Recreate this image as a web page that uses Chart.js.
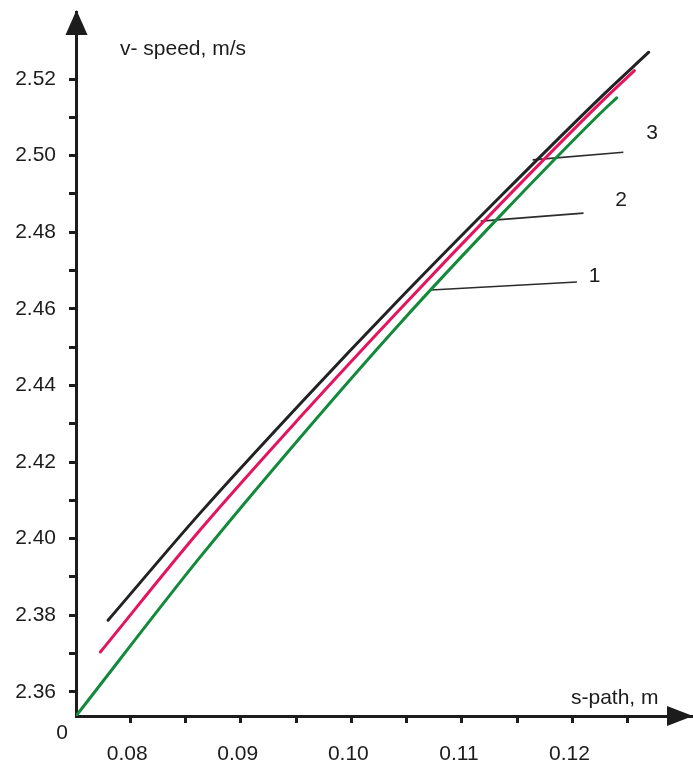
<!DOCTYPE html>
<html>
<head>
<meta charset="utf-8">
<script src="https://cdn.jsdelivr.net/npm/chart.js@4"></script>
<style>
  html, body { margin: 0; padding: 0; background: #fff; }
  #wrap { width: 693px; height: 766px; }
</style>
</head>
<body>
<div id="wrap"><canvas id="chart-speed"></canvas></div>
<script>
// s - path (m), v - speed (m/s), three curves
const curve1S = [0.0751, 0.0863, 0.0954, 0.1044, 0.1135, 0.1225, 0.1240];
const curve1V = [2.3537, 2.3951, 2.4265, 2.4562, 2.4844, 2.5110, 2.5151];
const curve2S = [0.0773, 0.0863, 0.0954, 0.1044, 0.1135, 0.1225, 0.1256];
const curve2V = [2.3704, 2.4022, 2.4318, 2.4599, 2.4874, 2.5137, 2.5222];
const curve3S = [0.0780, 0.0863, 0.0954, 0.1044, 0.1135, 0.1225, 0.1269];
const curve3V = [2.3787, 2.4066, 2.4353, 2.4627, 2.4894, 2.5151, 2.5270];

// leader lines to the curve numbers
const curveNames = ['1', '2', '3'];
const leaderS = [[0.1072, 0.1204], [0.1117, 0.1210], [0.1164, 0.1246]];
const leaderV = [[2.4649, 2.4670], [2.4829, 2.4850], [2.4989, 2.5009]];
const nameS = [0.1220, 0.1244, 0.1272];
const nameV = [2.4686, 2.4884, 2.5059];

// axes
const sMin = 0.0751, sMax = 0.1309;
const vMin = 2.3537, vMax = 2.5375;
const sTicks = [0.08, 0.085, 0.09, 0.095, 0.10, 0.105, 0.11, 0.115, 0.12, 0.125];
const sLabels = [0.08, 0.09, 0.10, 0.11, 0.12];
const vTicks = [2.36, 2.37, 2.38, 2.39, 2.40, 2.41, 2.42, 2.43, 2.44, 2.45, 2.46, 2.47, 2.48, 2.49, 2.50, 2.51, 2.52];
const vLabels = [2.36, 2.38, 2.40, 2.42, 2.44, 2.46, 2.48, 2.50, 2.52];

const FONT = '"Liberation Sans", Arial, sans-serif';
const INK = '#1c1c1c';

function pts(xs, ys) {
  return xs.map((x, i) => ({ x: x, y: ys[i] }));
}
function isLabel(list, v) {
  return list.some(l => Math.abs(l - v) < 1e-6);
}

const curveStyle = (data, color) => ({
  data: data, borderColor: color, borderWidth: 3, pointRadius: 0,
  showLine: true, fill: false, cubicInterpolationMode: 'monotone', borderCapStyle: 'round'
});

const datasets = [
  curveStyle(pts(curve1S, curve1V), '#13893b'),
  curveStyle(pts(curve2S, curve2V), '#e4145e'),
  curveStyle(pts(curve3S, curve3V), '#222222')
];
leaderS.forEach((s, i) => {
  datasets.push({
    data: pts(s, leaderV[i]), borderColor: '#2c2c2c', borderWidth: 1.6,
    pointRadius: 0, showLine: true, fill: false
  });
});

// axis arrows, axis names, origin mark and curve numbers
const decorPlugin = {
  id: 'decor',
  afterDraw(chart) {
    const ctx = chart.ctx;
    const a = chart.chartArea;
    const xs = chart.scales.x, ys = chart.scales.y;
    const ax = a.left + 0.5;
    ctx.save();
    ctx.fillStyle = INK;
    // y arrow
    ctx.beginPath();
    ctx.moveTo(ax, a.top - 2);
    ctx.lineTo(ax - 11, a.top + 23);
    ctx.lineTo(ax + 11, a.top + 23);
    ctx.closePath();
    ctx.fill();
    // x arrow
    ctx.beginPath();
    ctx.moveTo(a.right, a.bottom);
    ctx.lineTo(a.right - 26, a.bottom - 10);
    ctx.lineTo(a.right - 26, a.bottom + 10);
    ctx.closePath();
    ctx.fill();

    ctx.font = '21px ' + FONT;
    ctx.textBaseline = 'alphabetic';
    ctx.textAlign = 'left';
    ctx.fillText('v- speed, m/s', 120, 55);
    ctx.fillText('s-path, m', 571, 704);
    ctx.textAlign = 'center';
    ctx.textBaseline = 'middle';
    ctx.fillText('0', 62, 733);

    curveNames.forEach((n, i) => {
      ctx.fillText(n, xs.getPixelForValue(nameS[i]), ys.getPixelForValue(nameV[i]));
    });
    ctx.restore();
  }
};

const axisGrid = {
  display: true, drawOnChartArea: false, drawTicks: true,
  tickLength: 7, tickWidth: 3, tickColor: INK
};

new Chart(document.getElementById('chart-speed'), {
  type: 'scatter',
  data: { datasets: datasets },
  options: {
    responsive: true, maintainAspectRatio: false, animation: false,
    layout: { padding: { top: 12, right: 0, bottom: 0, left: 0 } },
    plugins: { legend: { display: false }, tooltip: { enabled: false } },
    scales: {
      x: {
        type: 'linear', min: sMin, max: sMax,
        grid: axisGrid,
        border: { display: true, width: 3, color: INK },
        afterBuildTicks: s => { s.ticks = sTicks.map(v => ({ value: v })); },
        afterFit: s => { s.height = 50; s.paddingLeft = 0; s.paddingRight = 0; },
        ticks: {
          autoSkip: false, maxRotation: 0, padding: 19, labelOffset: -3, color: INK,
          font: { family: FONT, size: 21 },
          callback: v => isLabel(sLabels, v) ? v.toFixed(2) : ''
        }
      },
      y: {
        type: 'linear', min: vMin, max: vMax,
        grid: axisGrid,
        border: { display: true, width: 3, color: INK },
        afterBuildTicks: s => { s.ticks = vTicks.map(v => ({ value: v })); },
        afterFit: s => { s.width = 76; s.paddingTop = 0; s.paddingBottom = 0; },
        ticks: {
          autoSkip: false, padding: 13, color: INK,
          font: { family: FONT, size: 21 },
          callback: v => isLabel(vLabels, v) ? v.toFixed(2) : ''
        }
      }
    }
  },
  plugins: [decorPlugin]
});
</script>
</body>
</html>
